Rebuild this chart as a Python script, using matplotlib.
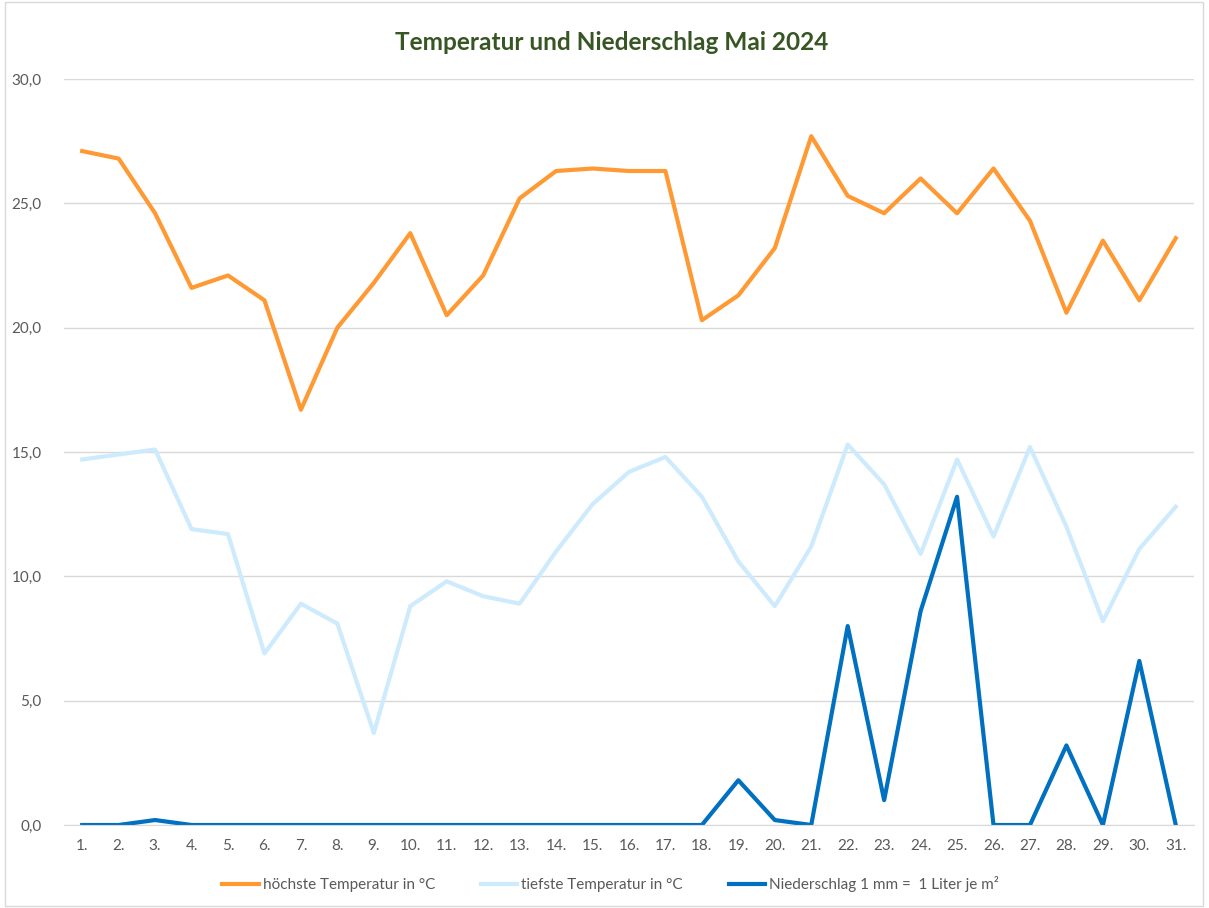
import matplotlib
matplotlib.use("Agg")
import matplotlib.pyplot as plt
from matplotlib.patches import Rectangle
from matplotlib.ticker import FuncFormatter

plt.rcParams['font.family'] = ['Lato', 'DejaVu Sans']

days = list(range(1, 32))
day_labels = [f"{d}." for d in days]

t_max = [27.1, 26.8, 24.6, 21.6, 22.1, 21.1, 16.7, 20.0, 21.8, 23.8,
         20.5, 22.1, 25.2, 26.3, 26.4, 26.3, 26.3, 20.3, 21.3, 23.2,
         27.7, 25.3, 24.6, 26.0, 24.6, 26.4, 24.3, 20.6, 23.5, 21.1, 23.6]
t_min = [14.7, 14.9, 15.1, 11.9, 11.7, 6.9, 8.9, 8.1, 3.7, 8.8,
         9.8, 9.2, 8.9, 11.0, 12.9, 14.2, 14.8, 13.2, 10.6, 8.8,
         11.2, 15.3, 13.7, 10.9, 14.7, 11.6, 15.2, 12.0, 8.2, 11.1, 12.8]
rain = [0, 0, 0.2, 0, 0, 0, 0, 0, 0, 0,
        0, 0, 0, 0, 0, 0, 0, 0, 1.8, 0.2,
        0, 8.0, 1.0, 8.6, 13.2, 0, 0, 3.2, 0, 6.6, 0]

fig = plt.figure(figsize=(12.09, 9.08), dpi=100)
ax = fig.add_axes([0.0529, 0.0914, 0.9347, 0.8216])

ax.plot(days, t_max, color='#FF9933', lw=3, label='höchste Temperatur in °C', solid_joinstyle='round')
ax.plot(days, t_min, color='#CDEBFD', lw=3, label='tiefste Temperatur in °C', solid_joinstyle='round')
ax.plot(days, rain, color='#0070C0', lw=3, label='Niederschlag 1 mm =  1 Liter je m²', solid_joinstyle='round')

ax.set_xlim(0.5, 31.5)
ax.set_ylim(0, 30)
ax.set_yticks([0, 5, 10, 15, 20, 25, 30])
ax.yaxis.set_major_formatter(FuncFormatter(lambda v, p: f"{v:.1f}".replace('.', ',')))
ax.set_xticks(days)
ax.set_xticklabels(day_labels)
ax.grid(axis='y', color='#D9D9D9', lw=1)
ax.set_axisbelow(True)
for s in ['top', 'right', 'left']:
    ax.spines[s].set_visible(False)
ax.spines['bottom'].set_color('#D9D9D9')
ax.tick_params(length=0, colors='#595959', labelsize=11)
ax.tick_params(axis='x', pad=10)
ax.tick_params(axis='y', pad=16)

fig.text(0.5055, 0.953, 'Temperatur und Niederschlag Mai 2024', ha='center', va='center',
         fontsize=17.6, fontweight='bold', color='#375623')

fig.legend(loc='center', bbox_to_anchor=(0.505, 0.026), ncol=3, frameon=False,
           fontsize=11, labelcolor='#595959', handlelength=2.4, handletextpad=0.25,
           columnspacing=3.0)

fig.add_artist(Rectangle((5 / 1209, 2 / 908), 1198 / 1209, 904 / 908, transform=fig.transFigure,
                         fill=False, edgecolor='#D9D9D9', lw=1))

fig.savefig('out.png', dpi=100)
